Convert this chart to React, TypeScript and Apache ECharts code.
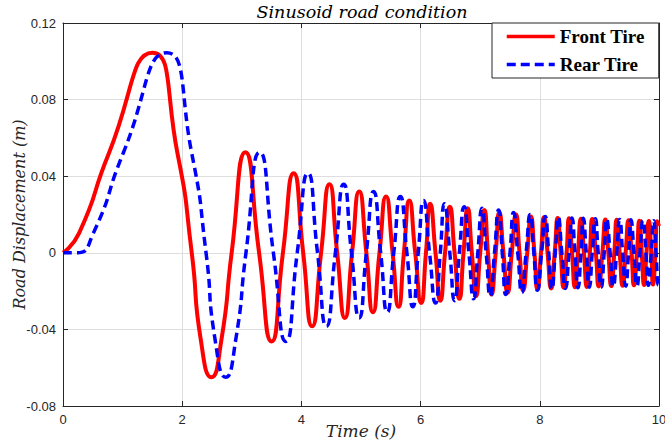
import React, { useEffect, useRef } from "react";
import * as echarts from "echarts";

// Front tire: time (s) and road displacement (m)
const frontTime = [
  0, 0.27, 0.77, 1.5, 1.92, 2.16, 2.31, 2.49, 2.66, 2.83, 3.06, 3.29, 3.5, 3.69, 3.87, 4.03,
  4.18, 4.33, 4.47, 4.6, 4.73, 4.85, 4.97, 5.09, 5.2, 5.31, 5.42, 5.53, 5.63, 5.72, 5.81, 5.91, 6.01, 6.09, 6.16, 6.25,
  6.33, 6.41, 6.49, 6.57, 6.65, 6.72, 6.79, 6.86, 6.93, 7.0, 7.07, 7.13, 7.19, 7.26, 7.32, 7.39, 7.46, 7.53, 7.6, 7.66,
  7.72, 7.79, 7.85, 7.91, 7.96, 8.02, 8.07, 8.13, 8.19, 8.25, 8.3, 8.35, 8.4, 8.45, 8.49, 8.54, 8.59, 8.64, 8.69, 8.74,
  8.79, 8.84, 8.88, 8.94, 8.99, 9.05, 9.1, 9.15, 9.2, 9.25, 9.29, 9.34, 9.39, 9.44, 9.49, 9.54, 9.58, 9.63, 9.67, 9.71,
  9.75, 9.79, 9.83, 9.87, 9.9, 9.94, 9.97, 10.0,
];
const frontDisp = [
  0, 0.0103, 0.052, 0.1045, 0.052, 0, -0.045, -0.065, -0.045, 0, 0.0525, 0, -0.0463, 0, 0.0416, 0,
  -0.0384, 0, 0.0358, 0, -0.034, 0, 0.032, 0, -0.031, 0, 0.0294, 0, -0.0282, 0, 0.0273, 0, -0.0262, 0, 0.0256, 0,
  -0.025, 0, 0.0241, 0, -0.024, 0, 0.0232, 0, -0.0226, 0, 0.0224, 0, -0.0218, 0, 0.021, 0, -0.0208, 0, 0.02, 0,
  -0.0196, 0, 0.019, 0, -0.019, 0, 0.0186, 0, -0.0186, 0, 0.0182, 0, -0.0182, 0, 0.018, 0, -0.018, 0, 0.0178, 0,
  -0.0178, 0, 0.0176, 0, -0.0176, 0, 0.0174, 0, -0.0174, 0, 0.0172, 0, -0.0172, 0, 0.017, 0, -0.017, 0, 0.0168, 0,
  -0.0168, 0, 0.0166, 0, -0.0166, 0, 0.0165, 0.014,
];

// Rear tire: time (s) and road displacement (m)
const rearTime = [
  0, 0.24, 0.51, 1.01, 1.74, 2.16, 2.4, 2.55, 2.73, 2.9, 3.07, 3.3, 3.53, 3.74, 3.93, 4.11,
  4.27, 4.42, 4.57, 4.71, 4.84, 4.97, 5.09, 5.21, 5.33, 5.44, 5.55, 5.66, 5.77, 5.87, 5.96, 6.05, 6.15, 6.25, 6.33, 6.4,
  6.49, 6.57, 6.65, 6.73, 6.81, 6.89, 6.96, 7.03, 7.1, 7.17, 7.24, 7.31, 7.37, 7.43, 7.5, 7.56, 7.63, 7.7, 7.77, 7.84,
  7.9, 7.96, 8.03, 8.09, 8.15, 8.2, 8.26, 8.31, 8.37, 8.43, 8.49, 8.54, 8.59, 8.64, 8.69, 8.73, 8.78, 8.83, 8.88, 8.93,
  8.98, 9.03, 9.08, 9.12, 9.18, 9.23, 9.29, 9.34, 9.39, 9.44, 9.49, 9.53, 9.58, 9.63, 9.68, 9.73, 9.78, 9.82, 9.87, 9.91,
  9.95, 9.99, 10.0,
];
const rearDisp = [
  0, 0, 0.0103, 0.052, 0.1045, 0.052, 0, -0.045, -0.065, -0.045, 0, 0.0525, 0, -0.0463, 0, 0.0416,
  0, -0.0384, 0, 0.0358, 0, -0.034, 0, 0.032, 0, -0.031, 0, 0.0294, 0, -0.0282, 0, 0.0273, 0, -0.0262, 0, 0.0256,
  0, -0.025, 0, 0.0241, 0, -0.024, 0, 0.0232, 0, -0.0226, 0, 0.0224, 0, -0.0218, 0, 0.021, 0, -0.0208, 0, 0.02,
  0, -0.0196, 0, 0.019, 0, -0.019, 0, 0.0186, 0, -0.0186, 0, 0.0182, 0, -0.0182, 0, 0.018, 0, -0.018, 0, 0.0178,
  0, -0.0178, 0, 0.0176, 0, -0.0176, 0, 0.0174, 0, -0.0174, 0, 0.0172, 0, -0.0172, 0, 0.017, 0, -0.017, 0, 0.0168,
  0, -0.0168, -0.0168,
];

const xTicks = { min: 0, max: 10, interval: 2 };
const yTicks = { min: -0.08, max: 0.12, interval: 0.04 };

const seriesNames = ["Front Tire", "Rear Tire"];
const titleText = "Sinusoid road condition";
const xName = "Time (s)";
const yName = "Road Displacement (m)";

const AXIS_COLOR = "#262626";

export default function App() {
  const ref = useRef<HTMLDivElement>(null);
  useEffect(() => {
    if (!ref.current) return;
    const chart = echarts.init(ref.current, undefined, { renderer: "svg" });
    const zip = (t: number[], v: number[]) => t.map((x, i) => [x, v[i]]);
    const fmtY = (v: number) => String(Number(v.toFixed(2)));

    const baseAxisLine = { show: true, lineStyle: { color: AXIS_COLOR, width: 1 } };
    const labelStyle = { color: AXIS_COLOR, fontFamily: "Liberation Sans", fontSize: 13 };
    const nameStyle = { color: AXIS_COLOR, fontFamily: "DejaVu Serif", fontStyle: "italic" };

    chart.setOption({
      animation: false,
      backgroundColor: "#ffffff",
      grid: { left: 63, right: 6, top: 23, bottom: 36, containLabel: false, outerBoundsMode: "none" },
      graphic: [
        {
          type: "text",
          x: 362,
          y: 3,
          style: {
            text: titleText,
            textAlign: "center",
            fontFamily: "DejaVu Serif",
            fontStyle: "italic",
            fontSize: 17.5,
            fill: "#000000",
          },
        },
      ],
      legend: {
        data: seriesNames,
        orient: "vertical",
        left: 492,
        top: 23,
        padding: [4, 14, 4, 13],
        itemGap: 9,
        itemWidth: 48,
        itemHeight: 18,
        backgroundColor: "#ffffff",
        borderColor: AXIS_COLOR,
        borderWidth: 1,
        borderRadius: 0,
        lineStyle: { width: 3.5 },
        itemStyle: { opacity: 0, borderWidth: 0 },
        textStyle: { fontFamily: "Liberation Serif", fontWeight: "bold", fontSize: 19, color: "#000000" },
      },
      xAxis: [
        {
          type: "value",
          position: "bottom",
          min: xTicks.min,
          max: xTicks.max,
          interval: xTicks.interval,
          name: xName,
          nameLocation: "middle",
          nameGap: 16,
          nameMoveOverlap: false,
          nameTextStyle: { ...nameStyle, fontSize: 17, verticalAlign: "top" },
          axisLine: { ...baseAxisLine, onZero: false },
          axisTick: { show: true, inside: true, length: 5, lineStyle: { color: AXIS_COLOR } },
          axisLabel: { ...labelStyle, margin: 7 },
          splitLine: { show: true, lineStyle: { color: "#dedede", width: 1 } },
        },
        {
          type: "value",
          position: "top",
          min: xTicks.min,
          max: xTicks.max,
          interval: xTicks.interval,
          axisLine: { ...baseAxisLine, onZero: false },
          axisTick: { show: true, inside: true, length: 5, lineStyle: { color: AXIS_COLOR } },
          axisLabel: { show: false },
          splitLine: { show: false },
        },
      ],
      yAxis: [
        {
          type: "value",
          position: "left",
          min: yTicks.min,
          max: yTicks.max,
          interval: yTicks.interval,
          name: yName,
          nameLocation: "middle",
          nameGap: 36,
          nameMoveOverlap: false,
          nameTextStyle: { ...nameStyle, fontSize: 16 },
          axisLine: { ...baseAxisLine, onZero: false },
          axisTick: { show: true, inside: true, length: 5, lineStyle: { color: AXIS_COLOR } },
          axisLabel: { ...labelStyle, margin: 7, formatter: fmtY },
          splitLine: { show: true, lineStyle: { color: "#dedede", width: 1 } },
        },
        {
          type: "value",
          position: "right",
          min: yTicks.min,
          max: yTicks.max,
          interval: yTicks.interval,
          axisLine: { ...baseAxisLine, onZero: false },
          axisTick: { show: true, inside: true, length: 5, lineStyle: { color: AXIS_COLOR } },
          axisLabel: { show: false },
          splitLine: { show: false },
        },
      ],
      series: [
        {
          name: seriesNames[0],
          type: "line",
          xAxisIndex: 0,
          yAxisIndex: 0,
          data: zip(frontTime, frontDisp),
          smooth: 0.6,
          symbol: "none",
          showSymbol: false,
          lineStyle: { color: "#ff0000", width: 4 },
          itemStyle: { color: "#ff0000" },
          z: 3,
        },
        {
          name: seriesNames[1],
          type: "line",
          xAxisIndex: 0,
          yAxisIndex: 0,
          data: zip(rearTime, rearDisp),
          smooth: 0.6,
          symbol: "none",
          showSymbol: false,
          lineStyle: { color: "#0000ff", width: 3.5, type: [9, 5] },
          itemStyle: { color: "#0000ff" },
          z: 4,
        },
      ],
    });
    return () => chart.dispose();
  }, []);
  return <div ref={ref} style={{ width: 665, height: 442, position: "absolute", left: 0, top: 0 }} />;
}
